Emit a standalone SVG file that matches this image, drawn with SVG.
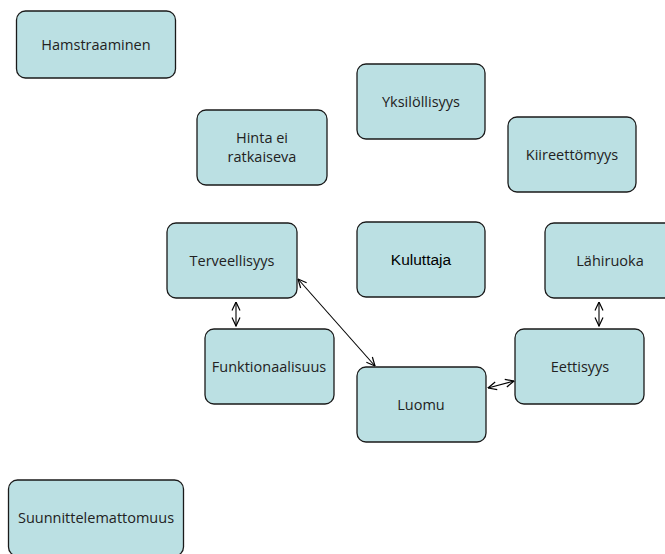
<svg xmlns="http://www.w3.org/2000/svg" width="665" height="554" viewBox="0 0 665 554">
  <style>
    .box { fill: #bbe0e3; stroke: #1a1a1a; stroke-width: 1.3; }
    .lbl { font-family: "Open Sans", "DejaVu Sans", sans-serif; font-size: 14.5px; fill: #222; text-anchor: middle; }
    .arial { font-family: "Liberation Sans", Arial, sans-serif; font-size: 15.5px; fill: #000; text-anchor: middle; }
    .link { stroke: #000; stroke-width: 1.1; fill: none; marker-start: url(#open); marker-end: url(#open); }
  </style>
  <defs>
    <marker id="open" viewBox="0 0 10 10" refX="9.5" refY="5" markerWidth="10" markerHeight="10" markerUnits="userSpaceOnUse" orient="auto-start-reverse">
      <path d="M1,1 L9.5,5 L1,9" fill="none" stroke="#000" stroke-width="1.2"/>
    </marker>
  </defs>
  <rect width="665" height="554" fill="#fff"/>

  <g id="connectors">
    <line class="link" x1="236" y1="302" x2="236" y2="326"/>
    <line class="link" x1="298" y1="279" x2="375" y2="366"/>
    <line class="link" x1="488" y1="388" x2="514" y2="381"/>
    <line class="link" x1="599" y1="302" x2="599" y2="326"/>
  </g>

  <g id="hamstraaminen">
    <rect class="box" x="16.5" y="11" width="159" height="67" rx="9"/>
    <text class="lbl" x="96" y="50">Hamstraaminen</text>
  </g>
  <g id="yksilollisyys">
    <rect class="box" x="357" y="64" width="128" height="75" rx="9"/>
    <text class="lbl" x="421" y="107">Yksilöllisyys</text>
  </g>
  <g id="hinta">
    <rect class="box" x="197" y="110" width="130" height="75" rx="9"/>
    <text class="lbl" x="262" y="143">Hinta ei</text>
    <text class="lbl" x="262" y="162">ratkaiseva</text>
  </g>
  <g id="kiireettomyys">
    <rect class="box" x="508" y="117" width="128" height="75" rx="9"/>
    <text class="lbl" x="572" y="160">Kiireettömyys</text>
  </g>
  <g id="terveellisyys">
    <rect class="box" x="167" y="223" width="130" height="75" rx="9"/>
    <text class="lbl" x="232" y="266">Terveellisyys</text>
  </g>
  <g id="kuluttaja">
    <rect class="box" x="357" y="222" width="128" height="75" rx="9"/>
    <text class="arial" x="421" y="265">Kuluttaja</text>
  </g>
  <g id="lahiruoka">
    <rect class="box" x="545" y="223" width="130" height="75" rx="9"/>
    <text class="lbl" x="610" y="266">Lähiruoka</text>
  </g>
  <g id="funktionaalisuus">
    <rect class="box" x="205" y="329" width="129" height="75" rx="9"/>
    <text class="lbl" x="269" y="372">Funktionaalisuus</text>
  </g>
  <g id="luomu">
    <rect class="box" x="357" y="367" width="129" height="75" rx="9"/>
    <text class="lbl" x="421" y="410">Luomu</text>
  </g>
  <g id="eettisyys">
    <rect class="box" x="515" y="329" width="129" height="75" rx="9"/>
    <text class="lbl" x="580" y="372">Eettisyys</text>
  </g>
  <g id="suunnittelemattomuus">
    <rect class="box" x="8.5" y="480" width="175" height="76" rx="9"/>
    <text class="lbl" x="96" y="523">Suunnittelemattomuus</text>
  </g>
</svg>
